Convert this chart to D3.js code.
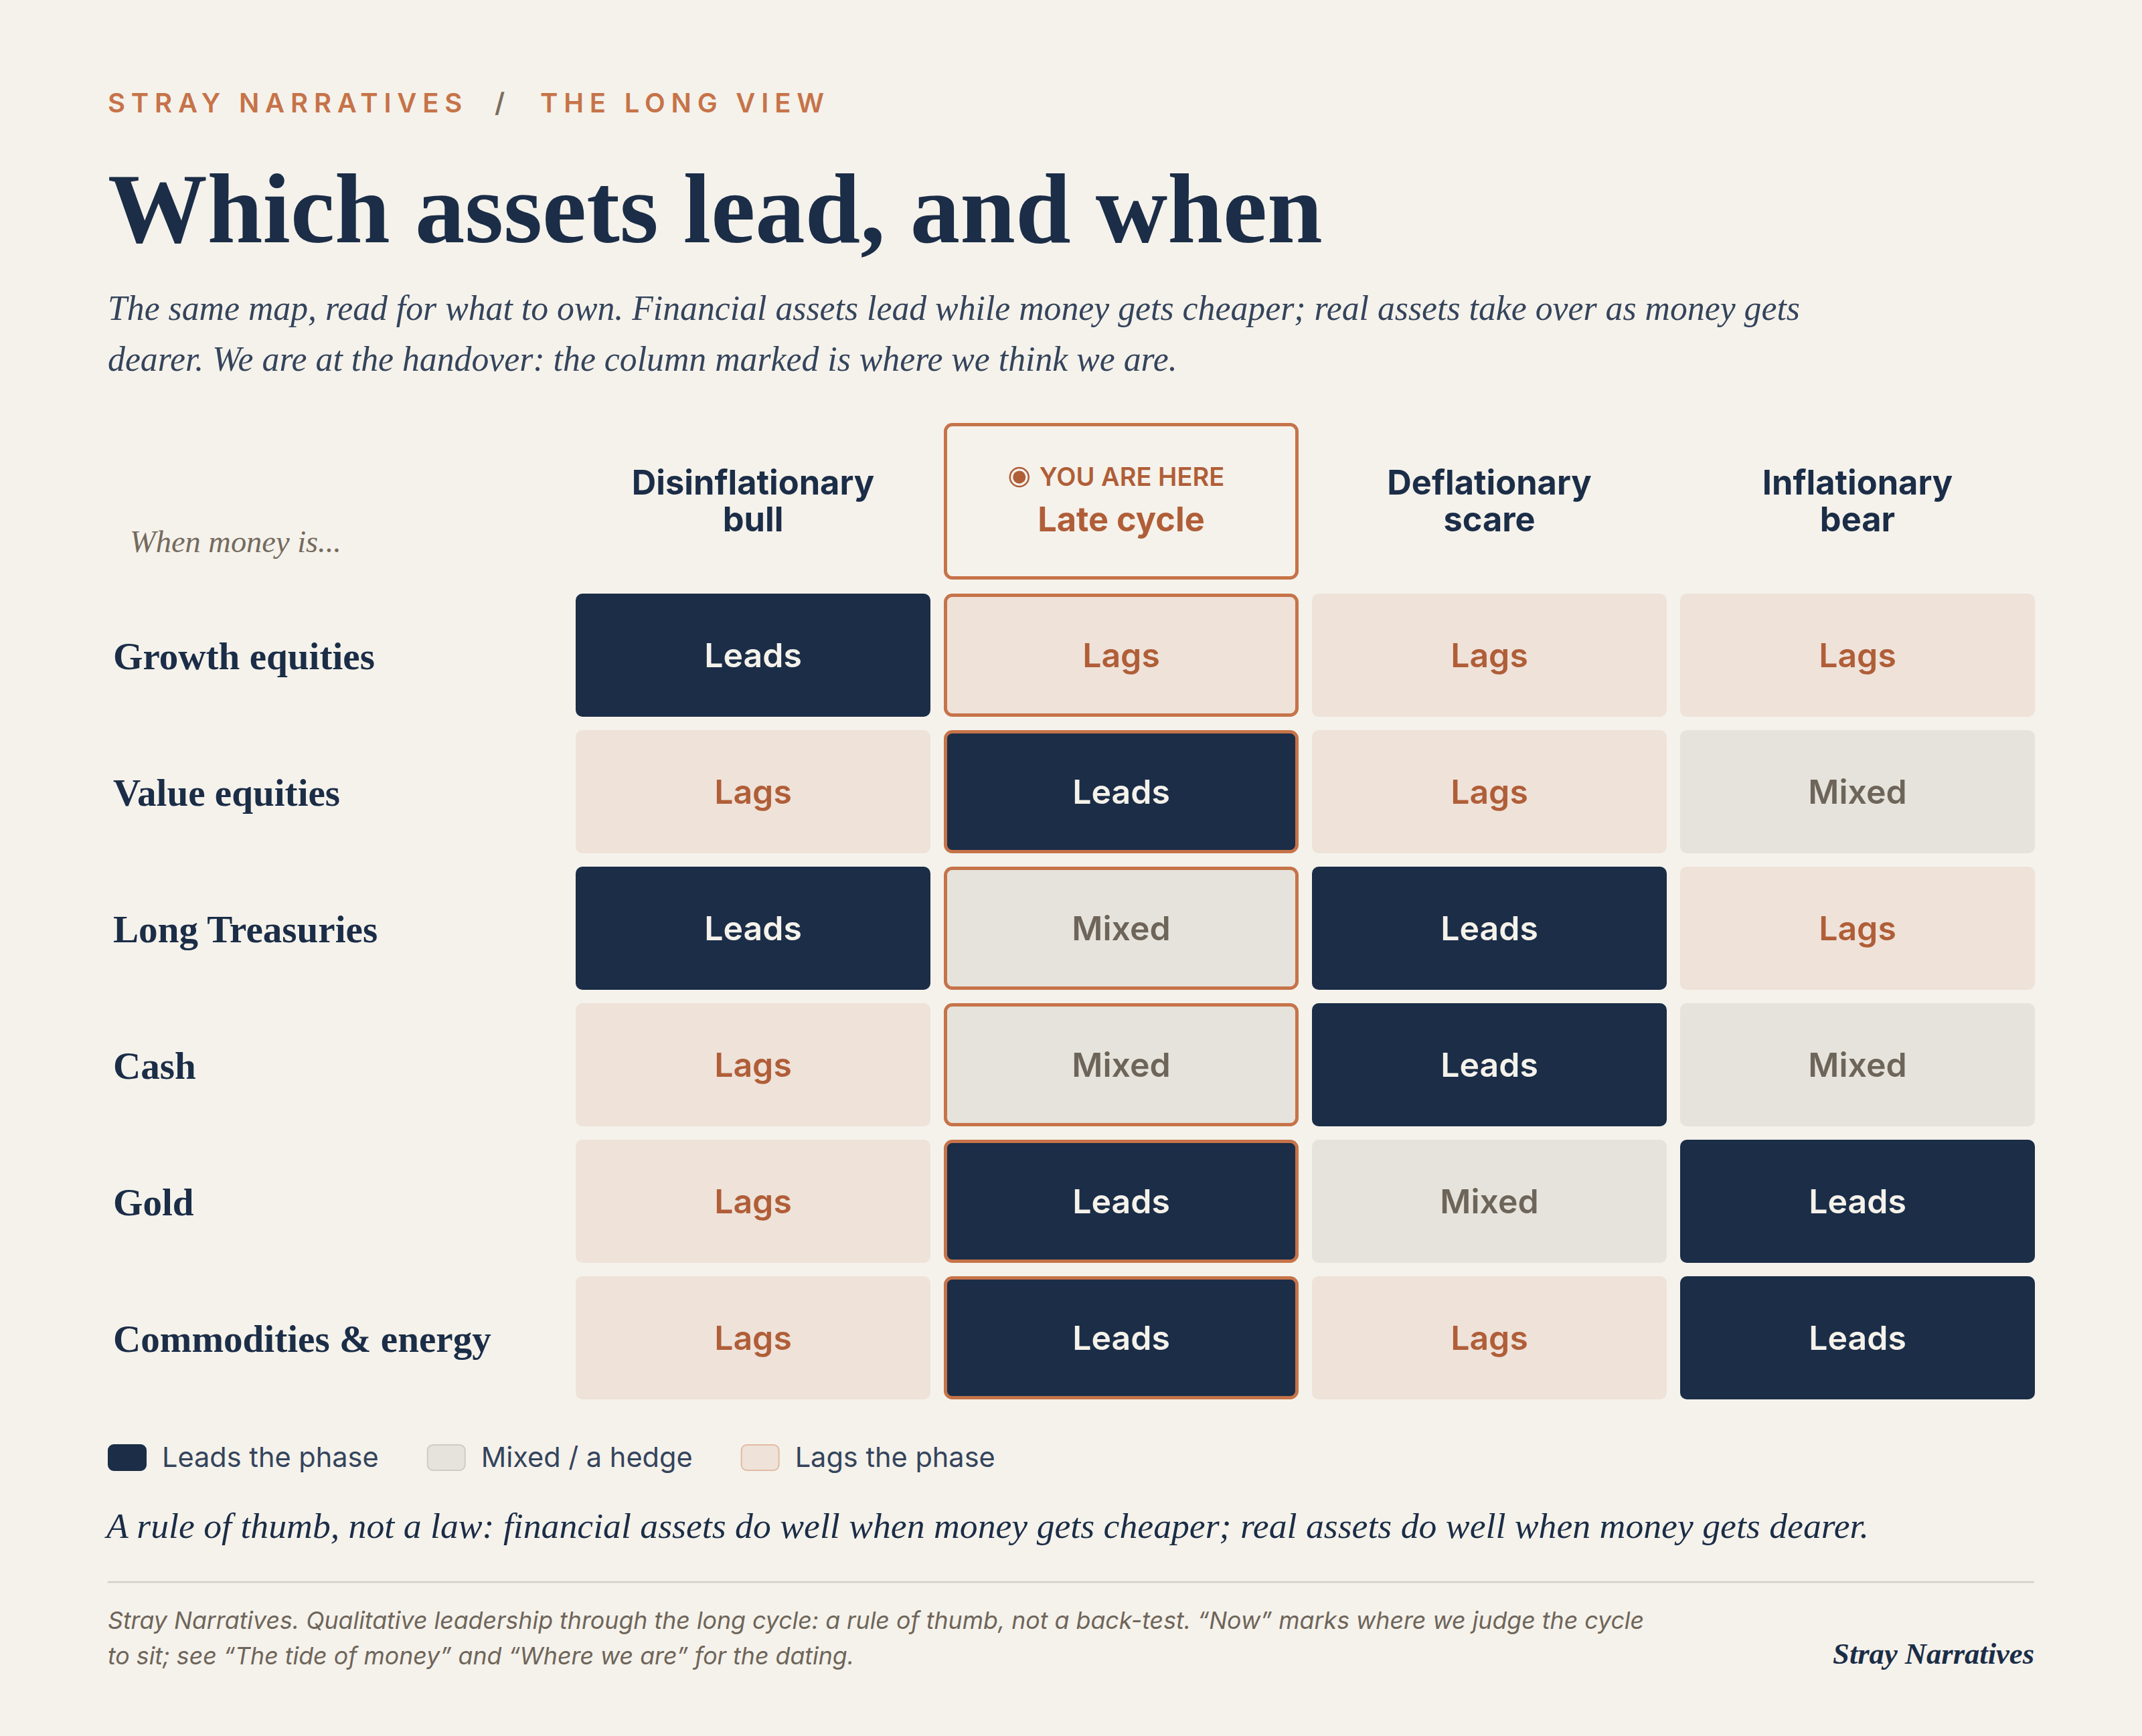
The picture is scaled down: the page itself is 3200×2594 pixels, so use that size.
<!DOCTYPE html>
<html>
<head>
<meta charset="utf-8">
<script src="https://cdn.jsdelivr.net/npm/d3@7"></script>
<style>
  html, body { margin: 0; padding: 0; background: #f5f2eb; }
  svg { display: block; }
</style>
</head>
<body>
<div id="chart"></div>
<script>
// Data
const phaseLines = [["Disinflationary", "bull"], ["Late cycle"], ["Deflationary", "scare"], ["Inflationary", "bear"]];
const phases = phaseLines.map(d => d.join(" "));
const currentPhase = "Late cycle";
const assets = ["Growth equities", "Value equities", "Long Treasuries", "Cash", "Gold", "Commodities & energy"];
// one reading per phase, in the order of phases
const readings = [
  ["Leads", "Lags", "Lags", "Lags"],
  ["Lags", "Leads", "Lags", "Mixed"],
  ["Leads", "Mixed", "Leads", "Lags"],
  ["Lags", "Mixed", "Leads", "Mixed"],
  ["Lags", "Leads", "Mixed", "Leads"],
  ["Lags", "Leads", "Lags", "Leads"]
];
const legendKeys = ["Leads", "Mixed", "Lags"];
const legendLabels = ["Leads the phase", "Mixed / a hedge", "Lags the phase"];

// Styles
const W = 3200, H = 2594;
const navy = "#1b2d47", orange = "#c67349", rust = "#b05e38";
const serif = "'Liberation Serif', 'DejaVu Serif', serif";
const sans = "Inter, 'Noto Sans', sans-serif";
const fill = { Leads: "#1b2d47", Mixed: "#e6e3dc", Lags: "#eee2d9" };
const ink = { Leads: "#f5f2eb", Mixed: "#6e655a", Lags: "#b05e38" };
const swatchStroke = { Leads: "#1b2d47", Mixed: "#cfccc5", Lags: "#e2bba3" };

// scale font-size so a text node spans a given width
function fitWidth(text, w) {
  const len = text.node().getComputedTextLength();
  const fs = parseFloat(text.attr("font-size"));
  text.attr("font-size", fs * w / len);
  return fs * w / len;
}

const svg = d3.select("#chart").append("svg")
  .attr("width", W).attr("height", H);

svg.append("rect").attr("width", W).attr("height", H).attr("fill", "#f5f2eb");

// Kicker
const kicker = svg.append("text")
  .attr("x", 161).attr("y", 168)
  .attr("font-family", sans).attr("font-size", 40).attr("font-weight", 600)
  .attr("letter-spacing", "0.22em").attr("fill", orange);
kicker.append("tspan").text("STRAY NARRATIVES");
kicker.append("tspan").attr("fill", "#7a6e62").attr("dx", 40).text("/");
kicker.append("tspan").attr("dx", 44).text("THE LONG VIEW");

// Title
const title = svg.append("text")
  .attr("x", 161).attr("y", 362)
  .attr("font-family", serif).attr("font-size", 160).attr("font-weight", 700)
  .attr("fill", navy).text("Which assets lead, and when");
fitWidth(title, 1815);

// Subtitle
const sub1 = svg.append("text")
  .attr("x", 161).attr("y", 478)
  .attr("font-family", serif).attr("font-style", "italic").attr("font-size", 50)
  .attr("fill", "#34445c")
  .text("The same map, read for what to own. Financial assets lead while money gets cheaper; real assets take over as money gets");
const subSize = fitWidth(sub1, 2529);
svg.append("text")
  .attr("x", 161).attr("y", 554)
  .attr("font-family", serif).attr("font-style", "italic").attr("font-size", subSize)
  .attr("fill", "#34445c")
  .text("dearer. We are at the handover: the column marked is where we think we are.");

// Scales
const x = d3.scaleBand().domain(phases).range([860, 3040]).paddingInner(20 / 550);
const y = d3.scaleBand().domain(assets).range([887, 2091]).paddingInner(20 / 204);

// Highlight box for the current phase
const hx = x(currentPhase);
svg.append("rect")
  .attr("x", hx + 2.5).attr("y", 634.5)
  .attr("width", x.bandwidth() - 5).attr("height", 229)
  .attr("rx", 10)
  .attr("fill", "none").attr("stroke", orange).attr("stroke-width", 5);

// Column headers
const head = svg.append("g").selectAll("g")
  .data(phaseLines)
  .join("g")
  .attr("transform", (d, i) => `translate(${x(phases[i]) + x.bandwidth() / 2},0)`);

head.each(function(lines, i) {
  const g = d3.select(this);
  const isNow = phases[i] === currentPhase;
  if (isNow) {
    const tag = g.append("text")
      .attr("y", 726).attr("text-anchor", "middle")
      .attr("font-family", sans).attr("font-size", 38).attr("font-weight", 600)
      .attr("fill", rust).attr("dx", 16)
      .text("YOU ARE HERE");
    const tw = tag.node().getComputedTextLength();
    const cx = 16 - tw / 2 - 30;
    g.append("circle").attr("cx", cx).attr("cy", 713).attr("r", 14)
      .attr("fill", "none").attr("stroke", rust).attr("stroke-width", 2.5);
    g.append("circle").attr("cx", cx).attr("cy", 713).attr("r", 9.5).attr("fill", rust);
  }
  g.selectAll("text.line")
    .data(lines)
    .join("text")
    .attr("class", "line")
    .attr("y", (d, j) => 794 - (lines.length - 1 - j) * 55)
    .attr("text-anchor", "middle")
    .attr("font-family", sans).attr("font-size", 50.5).attr("font-weight", 700)
    .attr("fill", isNow ? rust : navy)
    .text(d => d);
});

// "When money is..."
const when = svg.append("text")
  .attr("x", 194).attr("y", 825)
  .attr("font-family", serif).attr("font-style", "italic").attr("font-size", 44)
  .attr("fill", "#746a5e").text("When money is...");
fitWidth(when, 316);

// Row labels
const rowLabels = svg.append("g").selectAll("text")
  .data(assets)
  .join("text")
  .attr("x", 169)
  .attr("y", d => y(d) + y.bandwidth() / 2 + 21)
  .attr("font-family", serif).attr("font-size", 56).attr("font-weight", 700)
  .attr("fill", navy)
  .text(d => d);
const longest = rowLabels.filter(d => d === "Commodities & energy");
const labelSize = fitWidth(longest, 565);
rowLabels.attr("font-size", labelSize);

// Cells
const cells = assets.flatMap((a, r) => phases.map((p, c) => ({ asset: a, phase: p, value: readings[r][c] })));

const cell = svg.append("g").selectAll("g")
  .data(cells)
  .join("g")
  .attr("transform", d => `translate(${x(d.phase)},${y(d.asset)})`);

cell.append("rect")
  .attr("x", d => d.phase === currentPhase ? 2.5 : 0)
  .attr("y", d => d.phase === currentPhase ? 2.5 : 0)
  .attr("width", d => x.bandwidth() - (d.phase === currentPhase ? 5 : 0))
  .attr("height", d => y.bandwidth() - (d.phase === currentPhase ? 5 : 0))
  .attr("rx", 10)
  .attr("fill", d => fill[d.value])
  .attr("stroke", d => d.phase === currentPhase ? orange : "none")
  .attr("stroke-width", 5);

cell.append("text")
  .attr("x", x.bandwidth() / 2)
  .attr("y", y.bandwidth() / 2 + 18)
  .attr("text-anchor", "middle")
  .attr("font-family", sans).attr("font-size", 50).attr("font-weight", 600)
  .attr("fill", d => ink[d.value])
  .text(d => d.value);

// Legend
const legend = svg.append("g").attr("transform", "translate(161,2158)");
let lx = 0;
legendKeys.forEach((k, i) => {
  const g = legend.append("g").attr("transform", `translate(${lx},0)`);
  g.append("rect")
    .attr("x", 1).attr("y", 1).attr("width", 56).attr("height", 38).attr("rx", 8)
    .attr("fill", fill[k]).attr("stroke", swatchStroke[k]).attr("stroke-width", 2);
  const t = g.append("text")
    .attr("x", 81).attr("y", 34)
    .attr("font-family", sans).attr("font-size", 41.5)
    .attr("fill", "#34445c").text(legendLabels[i]);
  lx += 81 + t.node().getComputedTextLength() + 72;
});

// Rule of thumb
const rule = svg.append("text")
  .attr("x", 159).attr("y", 2298)
  .attr("font-family", serif).attr("font-style", "italic").attr("font-size", 58)
  .attr("fill", navy)
  .text("A rule of thumb, not a law: financial assets do well when money gets cheaper; real assets do well when money gets dearer.");
fitWidth(rule, 2633);

// Divider
svg.append("line")
  .attr("x1", 161).attr("x2", 3039).attr("y1", 2364).attr("y2", 2364)
  .attr("stroke", "#d3cfc8").attr("stroke-width", 2.5);

// Footnote
const foot1 = svg.append("text")
  .attr("x", 161).attr("y", 2434)
  .attr("font-family", sans).attr("font-style", "italic").attr("font-size", 34)
  .attr("fill", "#6e655a")
  .text("Stray Narratives. Qualitative leadership through the long cycle: a rule of thumb, not a back-test. \u201cNow\u201d marks where we judge the cycle");
const footSize = fitWidth(foot1, 2296);
svg.append("text")
  .attr("x", 161).attr("y", 2487)
  .attr("font-family", sans).attr("font-style", "italic").attr("font-size", footSize)
  .attr("fill", "#6e655a")
  .text("to sit; see \u201cThe tide of money\u201d and \u201cWhere we are\u201d for the dating.");

// Signature
const sig = svg.append("text")
  .attr("x", 3039).attr("y", 2486).attr("text-anchor", "end")
  .attr("font-family", serif).attr("font-style", "italic").attr("font-weight", 700).attr("font-size", 46)
  .attr("fill", navy).text("Stray Narratives");
fitWidth(sig, 301);
</script>
</body>
</html>
